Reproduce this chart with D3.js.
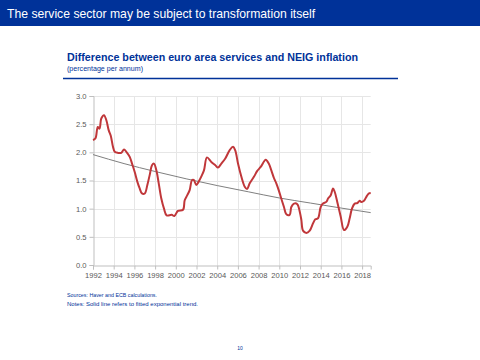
<!DOCTYPE html>
<html>
<head>
<meta charset="utf-8">
<script src="https://cdn.jsdelivr.net/npm/d3@7"></script>
<style>
  html, body { margin: 0; padding: 0; background: #fff; }
  svg { display: block; font-family: "Liberation Sans", Arial, sans-serif; }
</style>
</head>
<body>
<svg id="chart" width="480" height="360"></svg>
<script>
// ---- data ----
const years = [1992.00,1992.24,1992.46,1992.63,1992.80,1993.06,1993.29,1993.52,1993.71,1993.93,
  1994.10,1994.42,1994.73,1995.00,1995.22,1995.55,1995.77,1996.03,1996.28,1996.51,
  1996.73,1997.00,1997.25,1997.48,1997.70,1997.89,1998.12,1998.35,1998.60,1998.86,
  1999.12,1999.60,1999.86,2000.21,2000.70,2000.86,2001.11,2001.34,2001.57,2001.73,
  2001.98,2002.21,2002.46,2002.72,2003.01,2003.43,2003.82,2004.08,2004.40,2004.78,
  2005.21,2005.53,2005.75,2006.01,2006.33,2006.66,2006.88,2007.14,2007.56,2007.87,
  2008.20,2008.69,2008.98,2009.23,2009.49,2009.71,2009.94,2010.19,2010.45,2010.68,
  2011.00,2011.16,2011.42,2011.74,2011.97,2012.13,2012.29,2012.61,2012.94,2013.26,
  2013.48,2013.74,2014.00,2014.22,2014.54,2014.71,2014.97,2015.19,2015.35,2015.60,
  2015.93,2016.25,2016.57,2016.80,2017.02,2017.28,2017.54,2017.77,2017.92,2018.18,
  2018.41,2018.64,2018.83];
const spread = [2.22,2.25,2.45,2.42,2.60,2.66,2.57,2.39,2.30,2.10,
  2.01,1.99,1.99,2.05,2.01,1.92,1.80,1.65,1.48,1.36,
  1.27,1.27,1.42,1.60,1.77,1.80,1.68,1.45,1.18,1.00,
  0.88,0.89,0.87,0.96,0.98,1.15,1.24,1.33,1.51,1.51,
  1.42,1.48,1.57,1.68,1.91,1.83,1.77,1.73,1.80,1.89,
  2.04,2.10,2.03,1.80,1.57,1.39,1.35,1.45,1.57,1.67,
  1.74,1.87,1.80,1.68,1.54,1.45,1.33,1.18,1.03,0.90,
  0.89,1.03,1.09,1.08,0.95,0.80,0.61,0.57,0.61,0.74,
  0.81,0.83,1.03,1.09,1.12,1.18,1.24,1.36,1.30,1.12,
  0.86,0.62,0.68,0.83,1.00,1.09,1.10,1.14,1.12,1.14,
  1.21,1.27,1.28];
const trendYears = [1992, 1995, 1998, 2001, 2004, 2007, 2010, 2013, 2016, 2018.83];
const trendValues = [1.96, 1.80, 1.66, 1.53, 1.41, 1.30, 1.19, 1.10, 1.01, 0.93];
const xTicks = [1992,1994,1996,1998,2000,2002,2004,2006,2008,2010,2012,2014,2016,2018];
const yTicks = [0.0,0.5,1.0,1.5,2.0,2.5,3.0];

const headerText = "The service sector may be subject to transformation itself";
const chartTitle = "Difference between euro area services and NEIG  inflation";
const chartSubtitle = "(percentage per annum)";
const sourceText = "Sources: Haver and ECB calculations.";
const notesText = "Notes: Solid line refers to fitted exponential trend.";
const pageNumber = "10";

// ---- drawing ----
const svg = d3.select("#chart");
const blue = "#003299";

// header bar
svg.append("rect").attr("x", 0).attr("y", 0).attr("width", 480).attr("height", 26).attr("fill", blue);
svg.append("text").attr("x", 7).attr("y", 18).attr("fill", "#fff")
  .attr("font-size", 12.2).text(headerText);

// title block
svg.append("text").attr("x", 67).attr("y", 61).attr("fill", blue)
  .attr("font-size", 11).attr("font-weight", "bold")
  .attr("textLength", 291).attr("lengthAdjust", "spacingAndGlyphs").text(chartTitle);
svg.append("text").attr("x", 67).attr("y", 71).attr("fill", blue)
  .attr("font-size", 6.5).attr("textLength", 76).attr("lengthAdjust", "spacingAndGlyphs").text(chartSubtitle);
svg.append("line").attr("x1", 63).attr("x2", 398).attr("y1", 78.5).attr("y2", 78.5)
  .attr("stroke", blue).attr("stroke-width", 1.3);

// scales
const x = d3.scaleLinear().domain([1992, 2018.83]).range([93, 370.7]);
const y = d3.scaleLinear().domain([0, 3]).range([265, 96]);

// gridlines
const grid = svg.append("g");
grid.selectAll("line.h").data(yTicks.filter(d => d > 0)).join("line")
  .attr("x1", x(1992)).attr("x2", x(2018.83))
  .attr("y1", d => Math.round(y(d)) + 0.5).attr("y2", d => Math.round(y(d)) + 0.5)
  .attr("stroke", "#e6e6e6").attr("stroke-width", 1);
grid.selectAll("line.v").data(xTicks.filter(d => d > 1992)).join("line")
  .attr("x1", d => Math.round(x(d)) + 0.5).attr("x2", d => Math.round(x(d)) + 0.5)
  .attr("y1", y(0)).attr("y2", y(3))
  .attr("stroke", "#e6e6e6").attr("stroke-width", 1);

// axes
const yAxis = svg.append("g").attr("transform", `translate(${Math.round(x(1992)) + 0.5},0)`)
  .call(d3.axisLeft(y).tickValues(yTicks).tickFormat(d3.format(".1f")).tickSize(4).tickPadding(3));
const xAxis = svg.append("g").attr("transform", `translate(0,${Math.round(y(0)) + 0.5})`)
  .call(d3.axisBottom(x).tickValues(xTicks).tickFormat(d3.format("d")).tickSize(4).tickPadding(3));
[yAxis, xAxis].forEach(a => {
  a.select(".domain").attr("stroke", "#bfbfbf");
  a.selectAll(".tick line").attr("stroke", "#bfbfbf");
  a.selectAll(".tick text").attr("fill", "#595959").attr("font-size", 7.6)
    .attr("font-family", "'Liberation Sans', Arial, sans-serif");
});

// trend line
const trendData = trendYears.map((t, i) => [t, trendValues[i]]);
svg.append("path").datum(trendData)
  .attr("fill", "none").attr("stroke", "#7f7f7f").attr("stroke-width", 1)
  .attr("d", d3.line().x(d => x(d[0])).y(d => y(d[1])).curve(d3.curveMonotoneX));

// main series
const series = years.map((t, i) => [t, spread[i]]);
svg.append("path").datum(series)
  .attr("fill", "none").attr("stroke", "#c0373a").attr("stroke-width", 2)
  .attr("stroke-linejoin", "round")
  .attr("d", d3.line().x(d => x(d[0])).y(d => y(d[1])).curve(d3.curveCatmullRom));

// footnotes
svg.append("text").attr("x", 67).attr("y", 297).attr("fill", blue)
  .attr("font-size", 5.3).attr("textLength", 90).attr("lengthAdjust", "spacingAndGlyphs").text(sourceText);
svg.append("text").attr("x", 67).attr("y", 306).attr("fill", blue)
  .attr("font-size", 5.3).attr("textLength", 131).attr("lengthAdjust", "spacingAndGlyphs").text(notesText);

// page number
svg.append("text").attr("x", 240).attr("y", 350).attr("text-anchor", "middle").attr("fill", blue)
  .attr("font-size", 5).text(pageNumber);
</script>
</body>
</html>
